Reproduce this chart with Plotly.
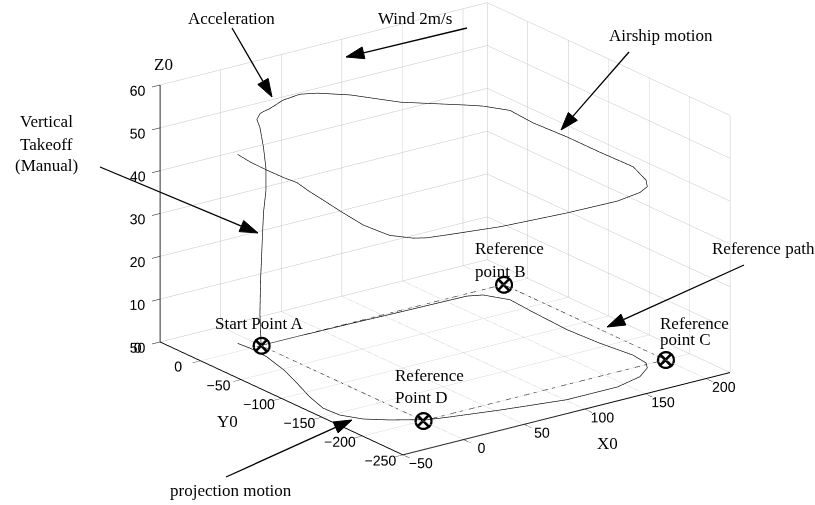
import math
import plotly.graph_objects as go

# ---------------- data ----------------
# airship trajectory: vertical takeoff at A, acceleration, loop at altitude
path_x = [0, -1, -0.5, 0.5, 1, 2, 4, 4, 2, -1, -3.5,
          -1, 2, 7, 18, 32, 46, 73, 113, 167, 177,
          186, 184, 182, 184, 188, 186, 181, 167, 143, 101,
          54, 19, 3, -4, -17, -30, -38, -39, -33, -24,
          -16, -10, -9, -10]
path_y = [0, 0, 0, 0, 0, 0, 0, 0, 0, 0, 0,
          0, 0, 0, 0, 0, -0.5, -1, -2.5, -4, -9,
          -29, -60, -106, -143, -178, -197, -206, -218, -226, -226,
          -215, -205, -200, -194, -184, -171, -154, -135, -109, -80,
          -52, -22, 0, 14]
path_z = [0, 7.5, 15, 21.5, 25, 31, 36, 41, 46, 51, 53,
          54.2, 54.5, 54.8, 56, 56.4, 55.7, 53.4, 49, 44.6, 44.1,
          44.2, 44.2, 45, 44.6, 44, 42.7, 42.3, 43, 43.4, 43.6,
          42.8, 42.6, 42.5, 42.4, 43.1, 45.3, 47.7, 48.6, 47.9, 46.8,
          44.9, 43.6, 43.5, 44.1]

# reference path A -> B -> C -> D -> A
ref_x = [0, 200, 200, 0, 0]
ref_y = [0, 0, -200, -200, 0]
ref_pt_x = [0, 200, 200, 0]
ref_pt_y = [0, 0, -200, -200]

x_range = [-50, 220]
y_range = [-250, 50]
z_range = [0, 60]
x_ticks = [-50, 0, 50, 100, 150, 200]
y_ticks = [-250, -200, -150, -100, -50, 0, 50]
z_ticks = [0, 10, 20, 30, 40, 50, 60]

W, H = 815, 505
SERIF = "Liberation Serif"
SANS = "Liberation Sans"

fig = go.Figure()
# axis edge lines (front X edge, front-left Y edge, back-left Z edge), from the axis ranges
fig.add_trace(go.Scatter3d(
    x=[x_range[1], x_range[0], x_range[0], None, x_range[0], x_range[0]],
    y=[y_range[0], y_range[0], y_range[1], None, y_range[1], y_range[1]],
    z=[z_range[0], z_range[0], z_range[0], None, z_range[0], z_range[1]],
    mode="lines", line=dict(color="black", width=1.6), hoverinfo="skip",
    connectgaps=False))
fig.add_trace(go.Scatter3d(x=path_x, y=path_y, z=path_z, mode="lines",
                           line=dict(color="black", width=1.3), hoverinfo="skip"))
fig.add_trace(go.Scatter3d(x=path_x, y=path_y, z=[0] * len(path_x), mode="lines",
                           line=dict(color="black", width=1.3), hoverinfo="skip"))
fig.add_trace(go.Scatter3d(x=ref_x, y=ref_y, z=[0] * len(ref_x), mode="lines",
                           line=dict(color="black", width=1.3, dash="dashdot"),
                           hoverinfo="skip"))
fig.add_trace(go.Scatter3d(x=ref_pt_x, y=ref_pt_y, z=[0] * len(ref_pt_x), mode="markers",
                           marker=dict(symbol="circle-open", size=10, color="black",
                                       line=dict(color="black", width=1)),
                           hoverinfo="skip"))
fig.add_trace(go.Scatter3d(x=ref_pt_x, y=ref_pt_y, z=[0] * len(ref_pt_x), mode="markers",
                           marker=dict(symbol="x", size=3, color="black"),
                           hoverinfo="skip"))


def axis(rng, ticks, tlen):
    return dict(range=rng, tickvals=ticks, ticktext=[str(t).replace("-", "\u2212") for t in ticks],
                showbackground=False, showgrid=True, gridcolor="#c4c4c4", gridwidth=1,
                showline=True, linecolor="black", linewidth=2, zeroline=False,
                ticks="outside", ticklen=tlen, tickwidth=1, tickcolor="black",
                tickangle=0,
                showspikes=False, title=dict(text=""),
                tickfont=dict(family=SANS, size=13, color="black"))


# view: azimuth ~ -36.4 deg, elevation 20 deg, orthographic
view_dir = (-0.557, -0.757, 0.342)
cam_center = (-0.139, 0.0624, -0.0884)
k = 3.0
eye = dict(x=cam_center[0] + view_dir[0] * k, y=cam_center[1] + view_dir[1] * k,
           z=cam_center[2] + view_dir[2] * k)

# ---------------- annotations (pixel positions from the reference) ----------------
def px(x):
    return x / W


def py(y):
    return 1 - y / H


texts = [
    ("Acceleration", 186, 23, "left"),
    ("Wind 2m/s", 376, 23, "left"),
    ("Airship motion", 607, 40, "left"),
    ("Vertical", 46, 126, "center"),
    ("Takeoff", 46, 149, "center"),
    ("(Manual)", 46, 170, "center"),
    ("Reference", 473, 253, "left"),
    ("point B", 473, 276, "left"),
    ("Reference path", 710, 253, "left"),
    ("Reference", 658, 328, "left"),
    ("point C", 658, 344, "left"),
    ("Reference", 393, 380, "left"),
    ("Point D", 393, 402, "left"),
    ("Start Point A", 213, 328, "left"),
    ("projection motion", 168, 495, "left"),
    ("Z0", 152, 69, "left"),
    ("Y0", 215, 426, "left"),
    ("X0", 595, 448, "left"),
]
annotations = []
for t, x, yb, anc in texts:
    annotations.append(dict(text=t, x=px(x), y=py(yb - 5), xref="paper", yref="paper",
                            xanchor=anc, yanchor="middle", showarrow=False,
                            font=dict(family=SERIF, size=17, color="black")))

arrows = [((232, 28), (272, 97)), ((467, 28), (346, 57)), ((629, 52), (561, 130)),
          ((100, 167), (258, 233)), ((744, 265), (607, 327)), ((226, 477), (352, 420))]
shapes = []
for (x0, y0), (x1, y1) in arrows:
    dx, dy = x1 - x0, y1 - y0
    n = math.hypot(dx, dy)
    ux, uy = dx / n, dy / n
    L, hw = 18, 6
    bx, by = x1 - L * ux, y1 - L * uy
    shapes.append(dict(type="line", xref="paper", yref="paper", x0=px(x0), y0=py(y0),
                       x1=px(bx), y1=py(by), line=dict(color="black", width=1.3)))
    p1 = (bx - hw * uy, by + hw * ux)
    p2 = (bx + hw * uy, by - hw * ux)
    path = "M {} {} L {} {} L {} {} Z".format(px(x1), py(y1), px(p1[0]), py(p1[1]),
                                             px(p2[0]), py(p2[1]))
    shapes.append(dict(type="path", xref="paper", yref="paper", path=path,
                       fillcolor="black", line=dict(color="black", width=1)))

fig.update_layout(
    width=W, height=H, margin=dict(l=0, r=0, t=0, b=0),
    paper_bgcolor="white", showlegend=False,
    scene=dict(
        domain=dict(x=[0, 1], y=[0, 1]),
        xaxis=axis(x_range, x_ticks, 10),
        yaxis=axis(y_range, y_ticks, 12),
        zaxis=axis(z_range, z_ticks, 6),
        aspectmode="manual", aspectratio=dict(x=1.609, y=1.623, z=1.083),
        camera=dict(eye=eye, up=dict(x=0, y=0, z=1),
                    center=dict(x=cam_center[0], y=cam_center[1], z=cam_center[2]),
                    projection=dict(type="orthographic")),
        bgcolor="white",
    ),
    annotations=annotations, shapes=shapes,
)

fig.write_html("out.html", config={"displayModeBar": False},
               post_script="document.body.style.margin='0px';")
